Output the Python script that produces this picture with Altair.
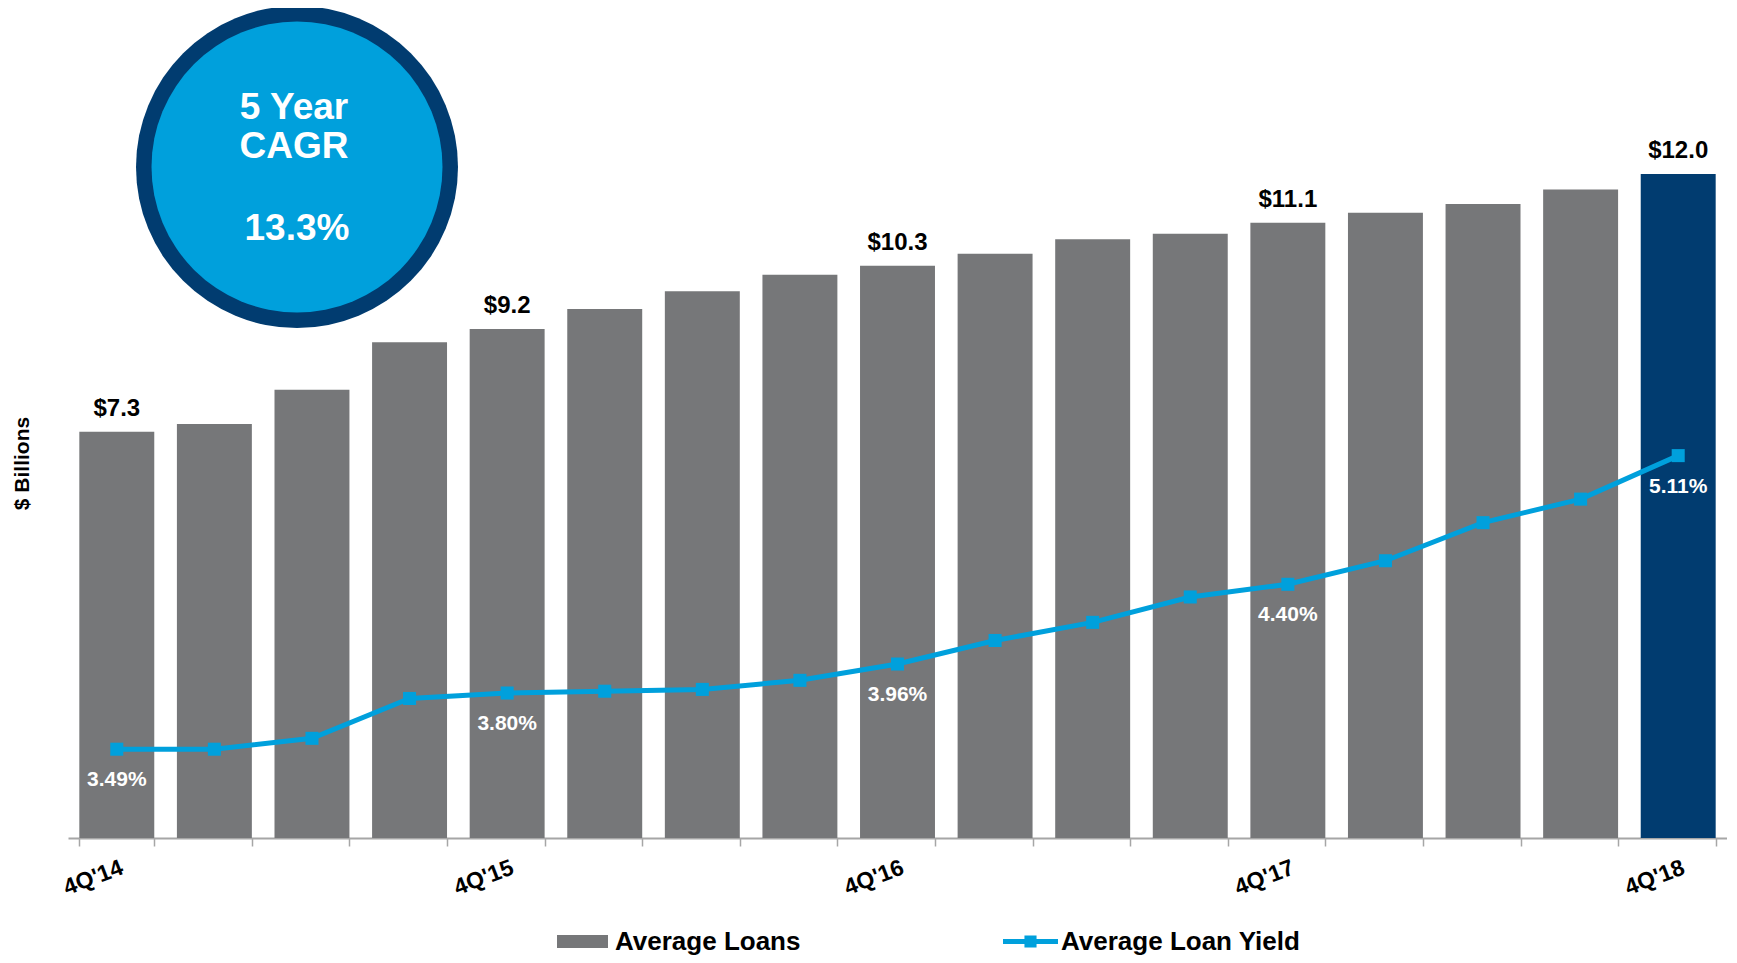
import altair as alt
import pandas as pd

FONT = "Liberation Sans"
GRAY = "#767779"
NAVY = "#013C70"
BLUE = "#00A0DC"

quarters = ["4Q'14", "1Q'15", "2Q'15", "3Q'15", "4Q'15", "1Q'16", "2Q'16", "3Q'16",
            "4Q'16", "1Q'17", "2Q'17", "3Q'17", "4Q'17", "1Q'18", "2Q'18", "3Q'18", "4Q'18"]
avg_loans = [7.34, 7.48, 8.10, 8.96, 9.20, 9.56, 9.88, 10.18, 10.34, 10.56, 10.82,
             10.92, 11.12, 11.30, 11.46, 11.72, 12.0]
loan_yield = [3.49, 3.49, 3.55, 3.77, 3.80, 3.81, 3.82, 3.87, 3.96, 4.09, 4.19,
              4.33, 4.40, 4.53, 4.74, 4.87, 5.11]
loan_labels = ["$7.3", "", "", "", "$9.2", "", "", "", "$10.3", "", "", "", "$11.1",
               "", "", "", "$12.0"]
yield_labels = ["3.49%", "", "", "", "3.80%", "", "", "", "3.96%", "", "", "", "4.40%",
                "", "", "", "5.11%"]

df = pd.DataFrame({
    "quarter": quarters,
    "loans": avg_loans,
    "yld": loan_yield,
    "loan_label": loan_labels,
    "yield_label": yield_labels,
    "bar_series": ["Average Loans"] * len(quarters),
    "line_series": ["Average Loan Yield"] * len(quarters),
})

base = alt.Chart(df)

x_enc = alt.X(
    "quarter:N", sort=quarters, title=None,
    scale=alt.Scale(paddingInner=0.232, paddingOuter=0.116),
    axis=alt.Axis(
        labelExpr="indexof(datum.label, '4Q') == 0 ? datum.label : ''",
        labelAngle=-21, labelAlign="right", labelBaseline="top",
        labelOffset=1, labelPadding=10, labelFontSize=23, labelFontWeight="bold",
        labelFont=FONT, labelColor="black", labelOverlap=False, labelLimit=0,
        tickBand="extent", tickSize=8, tickColor="#A6A6A6", tickWidth=1.5,
        domainColor="#A6A6A6", domainWidth=2, grid=False,
    ),
)
x_plain = alt.X("quarter:N", sort=quarters)

y_loans = alt.Y(
    "loans:Q", scale=alt.Scale(domain=[0, 15], nice=False),
    axis=alt.Axis(title="$ Billions", labels=False, ticks=False, domain=False, grid=False,
                  titleX=-46, titleY=455, titleBaseline="middle", titleAlign="center",
                  titleFontSize=21, titleFontWeight="bold",
                  titleFont=FONT, titleColor="black"),
)

bars = base.mark_bar().encode(
    x=x_enc,
    y=y_loans,
    color=alt.condition(
        alt.datum.quarter == "4Q'18",
        alt.value(NAVY),
        alt.Color("bar_series:N",
                  scale=alt.Scale(domain=["Average Loans"], range=[GRAY]),
                  legend=alt.Legend(title=None, orient="none", legendX=489, legendY=908,
                                    symbolType="M-1,-0.255H1V0.255H-1Z", symbolSize=2601,
                                    symbolStrokeWidth=0, labelFontSize=26, labelFont=FONT,
                                    labelFontWeight="bold", labelColor="black",
                                    labelOffset=7, labelLimit=0, padding=0)),
    ),
)

bar_text = base.mark_text(dy=-16, baseline="alphabetic", fontSize=24, fontWeight="bold",
                          font=FONT, color="black").encode(
    x=x_plain, y=alt.Y("loans:Q"), text="loan_label:N")

left = alt.layer(bars, bar_text)

y_yield = alt.Y("yld:Q", scale=alt.Scale(domain=[3.0, 7.58], nice=False, zero=False), axis=None)

line = base.mark_line(color=BLUE, strokeWidth=5).encode(x=x_plain, y=y_yield)
points = base.mark_square(size=170, opacity=1, filled=True).encode(
    x=x_plain, y=y_yield,
    color=alt.Color("line_series:N",
                    scale=alt.Scale(domain=["Average Loan Yield"], range=[BLUE]),
                    legend=alt.Legend(title=None, orient="none", legendX=935, legendY=906,
                                      symbolType="M-1,-0.09H1V0.09H-1Z M-0.22,-0.22H0.22V0.22H-0.22Z",
                                      symbolSize=3025, symbolStrokeWidth=0, symbolOpacity=1,
                                      labelFontSize=26, labelFont=FONT, labelFontWeight="bold",
                                      labelColor="black", labelOffset=3, labelLimit=0,
                                      padding=0)),
)
yield_text = base.mark_text(dy=31, baseline="middle", fontSize=21, fontWeight="bold",
                            font=FONT, color="white").encode(
    x=x_plain, y=y_yield, text="yield_label:N")

right = alt.layer(line, points, yield_text)

one = alt.Chart(pd.DataFrame({"k": [0]}))
outer_circle = one.mark_circle(color=NAVY, opacity=1).encode(
    x=alt.value(229), y=alt.value(159), size=alt.value(322 * 322))
inner_circle = one.mark_circle(color=BLUE, opacity=1).encode(
    x=alt.value(229), y=alt.value(159), size=alt.value(291 * 291))
cagr_title = one.mark_text(fontSize=37, fontWeight="bold", font=FONT, color="white",
                           baseline="middle", lineBreak="\n", lineHeight=39).encode(
    x=alt.value(226), y=alt.value(100), text=alt.value("5 Year\nCAGR"))
cagr_value = one.mark_text(fontSize=37, fontWeight="bold", font=FONT, color="white",
                           baseline="middle").encode(
    x=alt.value(229), y=alt.value(221), text=alt.value("13.3%"))

chart = alt.layer(left, right, outer_circle, inner_circle, cagr_title, cagr_value).resolve_scale(
    y="independent", color="independent"
).properties(
    width=1659, height=830,
    autosize=alt.AutoSizeParams(type="none"),
    padding={"left": 60, "top": 0, "right": 0, "bottom": 117},
    background="white",
).configure_view(stroke=None)

chart.save("out.html", embed_options={"renderer": "svg", "actions": False})
